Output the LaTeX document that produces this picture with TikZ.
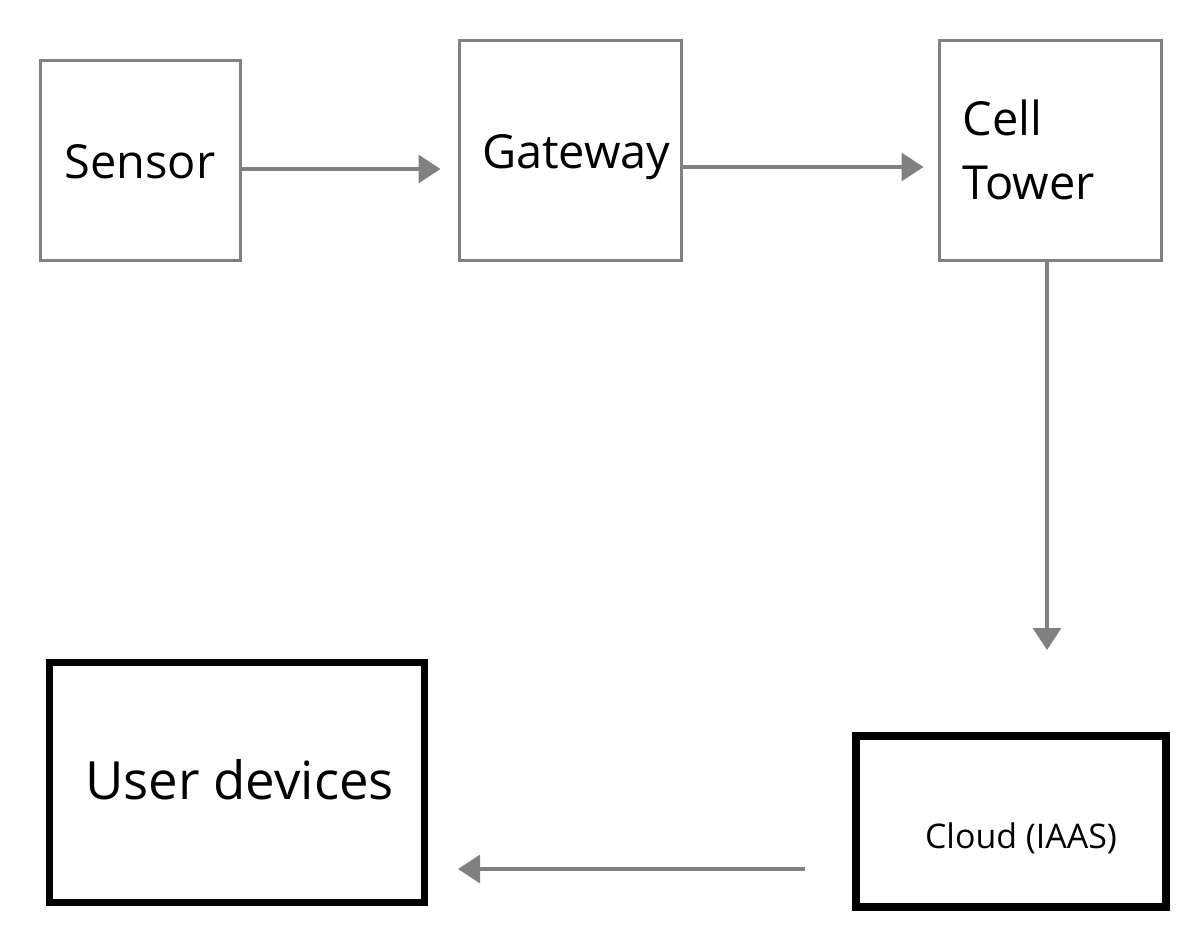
\documentclass[tikz,border=0pt]{standalone}
\usepackage{fontspec}
\setmainfont{Open Sans}
\usetikzlibrary{arrows.meta,positioning,calc}

\begin{document}
\begin{tikzpicture}[
  font=\fontsize{26.7}{36}\selectfont,
  box/.style={draw=gray, line width=0.06cm, inner sep=0pt, minimum width=4.44cm, minimum height=4.4cm},
  bigbox/.style={draw=black, inner sep=0pt},
  flow/.style={-{Triangle[length=0.44cm, width=0.56cm]}, draw=gray, line width=0.065cm}
]
\useasboundingbox (0,0) rectangle (24.02,-18.5);

% Top row
\node[box, minimum width=4cm, minimum height=4cm] (sensor) at (2.8,-3.2) {\raisebox{-0.04cm}[\height][\depth]{Sensor}};
\node[box] (gateway) at (11.4,-3.0) {\hspace{0.25cm}\raisebox{-0.14cm}[\height][\depth]{Gateway}};
\node[box, text width=3.5cm, align=left] (tower) at (21.0,-3.0) {Cell\\Tower};

% Bottom row
\node[bigbox, line width=0.14cm, minimum width=7.5cm, minimum height=4.8cm,
  font=\fontsize{30}{36}\selectfont] (user) at (4.74,-15.65) {\hspace{0.1cm}\raisebox{0.06cm}[\height][\depth]{User devices}};
\node[bigbox, line width=0.16cm, minimum width=6.2cm, minimum height=3.42cm] (cloud) at (20.22,-16.43) {};
\node[font=\fontsize{19.3}{24}\selectfont] (cloudtxt) at ([shift={(0.2,-0.33)}]cloud.center) {Cloud (IAAS)};

% Main flow
\draw[flow, shorten >=0.34cm] ([yshift=-0.18cm]sensor.east) -- ([yshift=-0.18cm]sensor.east -| gateway.west);
\draw[flow, shorten >=0.28cm] ([yshift=-0.34cm]gateway.east) -- ([yshift=-0.34cm]gateway.east -| tower.west);
\draw[flow, shorten >=1.64cm] ([xshift=-0.06cm]tower.south) -- ([xshift=-0.06cm]tower.south |- cloud.north);
\draw[flow, shorten <=0.94cm, shorten >=0.6cm] ([yshift=-0.95cm]cloud.west) -- ([yshift=-0.95cm]cloud.west -| user.east);

\end{tikzpicture}
\end{document}
